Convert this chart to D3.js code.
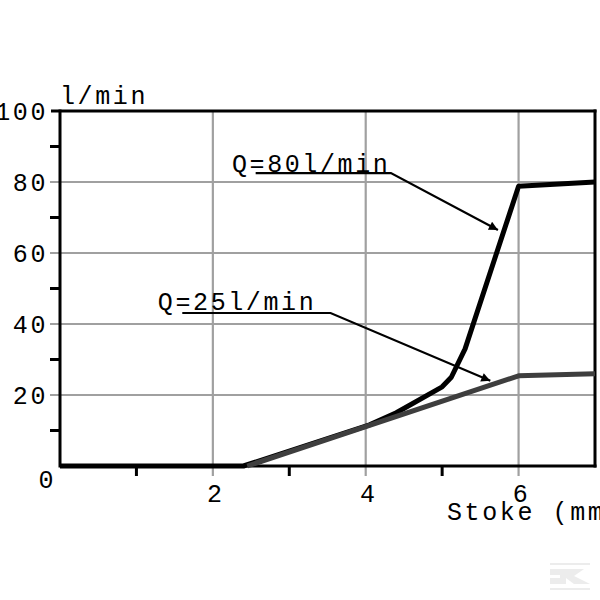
<!DOCTYPE html>
<html><head><meta charset="utf-8">
<script src="https://cdn.jsdelivr.net/npm/d3@7"></script>
<style>html,body{margin:0;padding:0;background:#fff;}svg{display:block;}</style>
</head><body>
<svg id="c" width="600" height="600"></svg>
<script>
// ---- data ----
const xTicks = [0, 2, 4, 6];
const xMinorTicks = [1, 3, 5];
const yTicks = [20, 40, 60, 80, 100];
const yMinorTicks = [10, 30, 50, 70, 90];
const yLabel = "l/min";
const xLabel = "Stoke (mm)";
const series80Name = "Q=80l/min";
const series80 = [[0,0],[2.4,0],[4.05,11.6],[4.4,15],[5.0,22.3],[5.12,25],[5.3,33],[6.0,78.8],[7.0,80]];
const series25Name = "Q=25l/min";
const series25 = [[2.45,0],[6.0,25.4],[7.0,26]];
// annotation anchors (data units): text start, underline start, underline end, arrow tip
const ann80 = {text:[2.25,82.8], u0:[2.56,82.5], u1:[4.33,82.5], tip:[5.73,66.5]};
const ann25 = {text:[1.28,44], u0:[1.6,43.1], u1:[3.54,43.1], tip:[5.63,24.0]};

// ---- drawing ----
const svg = d3.select("#c");
const x = d3.scaleLinear().domain([0,7]).range([60,595]);
const y = d3.scaleLinear().domain([0,100]).range([466,111]);
const FONT = "'Liberation Mono','Courier New',monospace";
const fs = 25, ls = 2.6;

const defs = svg.append("defs");
defs.append("marker").attr("id","ah").attr("viewBox","0 0 10 10").attr("refX",10).attr("refY",5)
  .attr("markerWidth",16).attr("markerHeight",9).attr("markerUnits","userSpaceOnUse").attr("orient","auto")
  .append("path").attr("d","M0,0 L10,5 L0,10 z").attr("fill","#000");

const grid = svg.append("g").attr("stroke","#a0a0a0").attr("stroke-width",2.2);
grid.selectAll("line.h").data(yTicks.filter(d=>d<100)).enter().append("line")
  .attr("x1",x(0)-10).attr("x2",x(7)).attr("y1",d=>y(d)).attr("y2",d=>y(d));
grid.selectAll("line.v").data(xTicks.filter(d=>d>0)).enter().append("line")
  .attr("x1",d=>x(d)).attr("x2",d=>x(d)).attr("y1",y(100)).attr("y2",y(0)+10);

const ax = svg.append("g").attr("stroke","#000").attr("stroke-width",3).attr("fill","none");
ax.append("line").attr("x1",x(0)).attr("x2",x(0)).attr("y1",y(100)-1.5).attr("y2",y(0)+1.5);
ax.append("line").attr("x1",x(7)).attr("x2",x(7)).attr("y1",y(100)-1.5).attr("y2",y(0)+1.5);
ax.append("line").attr("x1",x(0)-9).attr("x2",x(7)+1.5).attr("y1",y(100)).attr("y2",y(100));
ax.append("line").attr("x1",x(0)).attr("x2",x(7)+1.5).attr("y1",y(0)).attr("y2",y(0));
ax.selectAll("line.ym").data(yMinorTicks).enter().append("line")
  .attr("x1",x(0)-10).attr("x2",x(0)).attr("y1",d=>y(d)).attr("y2",d=>y(d));
ax.selectAll("line.xm").data(xMinorTicks).enter().append("line")
  .attr("x1",d=>x(d)).attr("x2",d=>x(d)).attr("y1",y(0)).attr("y2",y(0)+10);

const txt = svg.append("g").attr("font-family",FONT).attr("font-size",fs).attr("letter-spacing",ls).attr("fill","#000");
txt.selectAll("text.yl").data(yTicks).enter().append("text")
  .attr("x",x(0)-12).attr("y",d=>y(d)+9).attr("text-anchor","end").text(d=>d);
txt.append("text").attr("x",x(0)-4).attr("y",y(0)+22).attr("text-anchor","end").text("0");
txt.selectAll("text.xl").data(xTicks.filter(d=>d>0)).enter().append("text")
  .attr("x",d=>x(d)+3).attr("y",y(0)+36).attr("text-anchor","middle").text(d=>d);
txt.append("text").attr("x",x(0)).attr("y",y(100)-7).text(yLabel);
txt.append("text").attr("x",447).attr("y",y(0)+54).text(xLabel);

const line = d3.line().x(d=>x(d[0])).y(d=>y(d[1]));
svg.append("path").datum(series80).attr("d",line).attr("fill","none")
  .attr("stroke","#000").attr("stroke-width",5).attr("stroke-linejoin","round");
svg.append("path").datum(series25).attr("d",line).attr("fill","none")
  .attr("stroke","#3e3e3e").attr("stroke-width",5).attr("stroke-linejoin","round");

function annotate(a, label){
  txt.append("text").attr("x",x(a.text[0])).attr("y",y(a.text[1])).text(label);
  svg.append("polyline")
    .attr("points",[a.u0,a.u1,a.tip].map(p=>x(p[0])+","+y(p[1])).join(" "))
    .attr("fill","none").attr("stroke","#000").attr("stroke-width",2.2).attr("marker-end","url(#ah)");
}
annotate(ann80, series80Name);
annotate(ann25, series25Name);

// faint watermark logo
const wm = svg.append("g").attr("fill","#ececec");
wm.append("rect").attr("x",550).attr("y",563).attr("width",40).attr("height",2);
wm.append("rect").attr("x",550).attr("y",588).attr("width",40).attr("height",2);
wm.append("path").attr("d","M550,569 H572 L584,569 L574,576 L590,584 L574,584 L566,578 V584 H550 V578 H560 V575 H550 Z");
</script>
</body></html>
